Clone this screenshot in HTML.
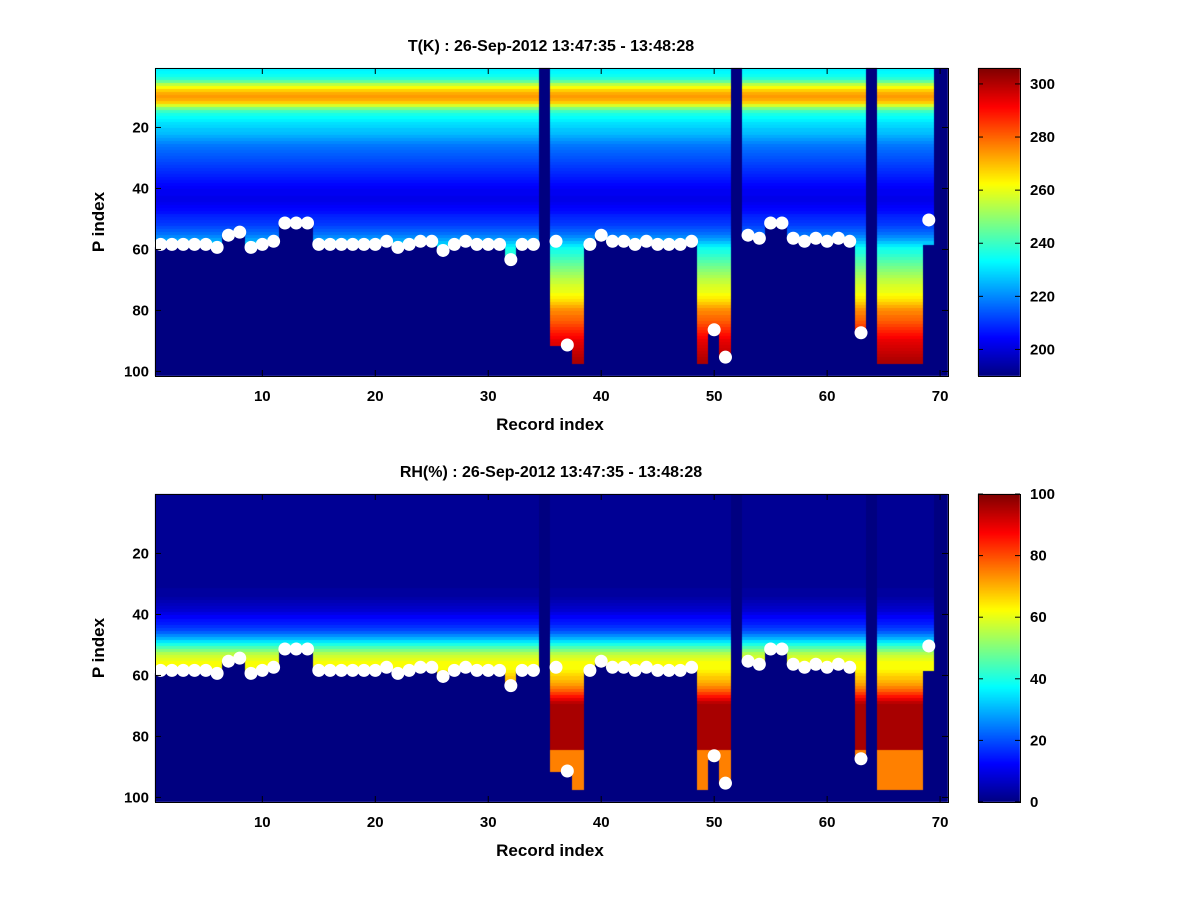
<!DOCTYPE html>
<html><head><meta charset="utf-8"><style>
body{margin:0;background:#fff;}
#wrap{position:relative;width:1200px;height:900px;overflow:hidden;background:#fff;}
canvas,svg{position:absolute;left:0;top:0;}
text{font-family:"Liberation Sans",sans-serif;font-weight:bold;fill:#000;}
</style></head><body>
<div id="wrap">
<canvas id="cv" width="1200" height="900"></canvas>
<svg id="sv" width="1200" height="900"></svg>
</div>
<script>
// ---- data ----
const records = Array.from({length:70},(_,i)=>i+1);
// surface P index (white dot); null = no dot
const surface = [58,58,58,58,58,59,55,54,59,58,57,51,51,51,58,58,58,58,58,58,57,59,58,57,57,60,58,57,58,58,58,63,58,58,null,57,91,null,58,55,57,57,58,57,58,58,58,57,null,86,95,null,55,56,51,51,56,57,56,57,56,57,87,null,null,null,null,null,50,null];
// last level with data (0 = empty column)
const bottom = [58,58,58,58,58,59,55,54,59,58,57,51,51,51,58,58,58,58,58,58,57,59,58,57,57,60,58,57,58,58,58,63,58,58,0,91,91,97,58,55,57,57,58,57,58,58,58,57,97,87,95,0,55,56,51,51,56,57,56,57,56,57,87,0,97,97,97,97,58,0];
// temperature profile by P level (1..101)
const tProfile = [232,233,235,238,245,255,262,268,272,274,272,268,258,248,240,236,234,232,230,229,
227,226,224,222,220,218,217,216,215,214,213,212,211,210,209,208,207,206,205,204,
203,203,202,202,203,204,205,206,208,209,210,211,213,215,217,220,223,227,231,235,
237,239,241,243,245,247,249,251,253,255,256,258,259,260,262,264,266,269,272,275,
277,279,280,282,284,286,288,290,292,294,295,296,297,298,299,300,301,302,303,304,305];
// relative humidity profile by P level (1..101)
const rhProfile = [2,2,2,2,2,2,2,2,2,2,2,2,2,2,2,2,2,2,2,2,2,2,2,2,2,2,2,2,2,2,2,3,3,
3,4,5,6,7,8,10,12,14,15,17,19,22,26,30,35,40,45,50,55,58,60,62,62,62,64,66,68,70,72,75,78,
82,86,90,94,96,96,96,96,96,96,96,96,96,96,96,96,96,96,96,75,75,75,75,75,75,75,75,75,75,75,75,75,75,75,75];
const xTicks = [10,20,30,40,50,60,70];
const yTicks = [20,40,60,80,100];
const tTicks = [200,220,240,260,280,300];
const rhTicks = [0,20,40,60,80,100];

// ---- layout ----
const AX_L=155, AX_R=948, CB_L=978, CB_R=1020, H=308;
const panels=[{top:68,prof:tProfile,min:190,max:306,ticks:tTicks,title:"T(K) : 26-Sep-2012 13:47:35 - 13:48:28",name:"temperature"},
              {top:494,prof:rhProfile,min:0,max:100,ticks:rhTicks,title:"RH(%) : 26-Sep-2012 13:47:35 - 13:48:28",name:"humidity"}];
const sx=v=>AX_L+(v-0.5)*(AX_R-AX_L)/70.2;
function jet(t){t=Math.max(0,Math.min(1,t));const c=x=>Math.round(255*Math.max(0,Math.min(1,1.5-Math.abs(x))));return `rgb(${c(4*t-3)},${c(4*t-2)},${c(4*t-1)})`;}
const ctx=document.getElementById('cv').getContext('2d');
const svg=document.getElementById('sv');
const NS="http://www.w3.org/2000/svg";
function mk(tag,attrs,name,parent){const e=document.createElementNS(NS,tag);for(const k in attrs)e.setAttribute(k,attrs[k]);


(parent||svg).appendChild(e);return e;}

panels.forEach(p=>{
  const sy=l=>p.top+(l-0.5)*H/101;
  const norm=v=>(v-p.min)/(p.max-p.min);
  ctx.fillStyle=jet(0);ctx.fillRect(AX_L,p.top,AX_R-AX_L,H);
  records.forEach((r,i)=>{
    const x0=Math.floor(sx(r-0.5)), x1=Math.floor(sx(r+0.5));
    for(let l=1;l<=bottom[i];l++){
      ctx.fillStyle=jet(norm(p.prof[l-1]));
      const y0=Math.floor(sy(l-0.5)), y1=Math.floor(sy(l+0.5));
      ctx.fillRect(x0,y0,x1-x0,y1-y0+1);
    }
  });
  for(let y=0;y<H;y++){ctx.fillStyle=jet(1-y/H);ctx.fillRect(CB_L,p.top+y,CB_R-CB_L,1);}
  const g=mk('g',{},p.name+'-panel');
  records.forEach((r,i)=>{ if(surface[i]!==null) mk('circle',{cx:sx(r),cy:sy(surface[i])+1,r:6.5,fill:'#fff'},'surface-dot',g); });
  mk('rect',{x:AX_L+0.5,y:p.top+0.5,width:AX_R-AX_L,height:H,fill:'none',stroke:'#000'},'plot-frame',g);
  mk('rect',{x:CB_L+0.5,y:p.top+0.5,width:CB_R-CB_L,height:H,fill:'none',stroke:'#000'},'colorbar-frame',g);
  xTicks.forEach(v=>{const x=sx(v);
    mk('line',{x1:x,x2:x,y1:p.top+H,y2:p.top+H-6,stroke:'#000'},'x-tick',g);
    mk('line',{x1:x,x2:x,y1:p.top,y2:p.top+6,stroke:'#000'},'x-tick',g);
    const t=mk('text',{x:x,y:p.top+H+25,'text-anchor':'middle','font-size':15},'x-tick-label',g);t.textContent=v;});
  yTicks.forEach(v=>{const y=sy(v);
    mk('line',{x1:AX_L,x2:AX_L+6,y1:y,y2:y,stroke:'#000'},'y-tick',g);
    mk('line',{x1:AX_R,x2:AX_R-6,y1:y,y2:y,stroke:'#000'},'y-tick',g);
    const t=mk('text',{x:AX_L-6,y:y+5,'text-anchor':'end','font-size':15},'y-tick-label',g);t.textContent=v;});
  p.ticks.forEach(v=>{const y=p.top+H-(v-p.min)/(p.max-p.min)*H;
    mk('line',{x1:CB_R,x2:CB_R-5,y1:y,y2:y,stroke:'#000'},'colorbar-tick',g);
    mk('line',{x1:CB_L,x2:CB_L+5,y1:y,y2:y,stroke:'#000'},'colorbar-tick',g);
    const t=mk('text',{x:CB_R+10,y:y+5,'font-size':15},'colorbar-tick-label',g);t.textContent=v;});
  let t=mk('text',{x:551,y:p.top-17,'text-anchor':'middle','font-size':16},'chart-title',g);t.textContent=p.title;
  t=mk('text',{x:550,y:p.top+H+54,'text-anchor':'middle','font-size':17},'x-axis-title',g);t.textContent="Record index";
  t=mk('text',{x:0,y:0,'text-anchor':'middle','font-size':17,transform:`translate(104,${p.top+H/2}) rotate(-90)`},'y-axis-title',g);t.textContent="P index";
});
</script>
</body></html>
